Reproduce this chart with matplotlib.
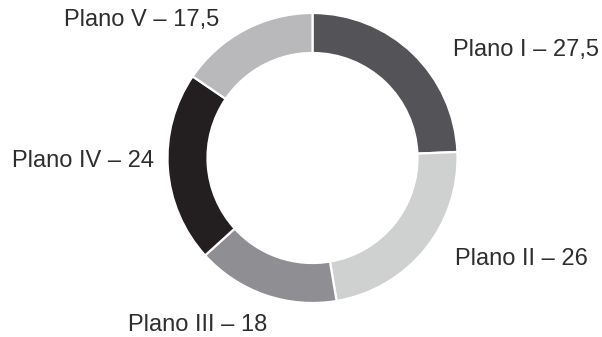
import matplotlib.pyplot as plt

# ---------------- DATA ----------------
planos = ["Plano I", "Plano II", "Plano III", "Plano IV", "Plano V"]
valores = [27.5, 26, 18, 24, 17.5]
rotulos = ["27,5", "26", "18", "24", "17,5"]
cores = ["#545357", "#cfd1d1", "#8f8e92", "#231f20", "#b9b9bb"]

# label anchor (pixel coords from top-left) and alignment
pos_rotulos = [(453, 50, "left"), (455, 259, "left"), (198, 325, "center"),
               (12, 161, "left"), (64, 20, "left")]

# ---------------- PLOT ----------------
W, H = 602, 337
fig = plt.figure(figsize=(W / 100, H / 100), dpi=100)
ax = fig.add_axes([0, 0, 1, 1])

ax.pie(valores, colors=cores, startangle=90, counterclock=False,
       center=(312.5, H - 158), radius=145, frame=True,
       wedgeprops=dict(width=40, edgecolor="white", linewidth=1.6))
ax.set_xlim(0, W)
ax.set_ylim(0, H)
ax.set_aspect("equal")
ax.axis("off")

for nome, rot, (x, y, ha) in zip(planos, rotulos, pos_rotulos):
    ax.text(x, H - y, f"{nome} \u2013 {rot}", ha=ha, va="center",
            fontsize=17, family="Liberation Sans", color="#2e2e2e")

fig.savefig("out.png", dpi=100)
